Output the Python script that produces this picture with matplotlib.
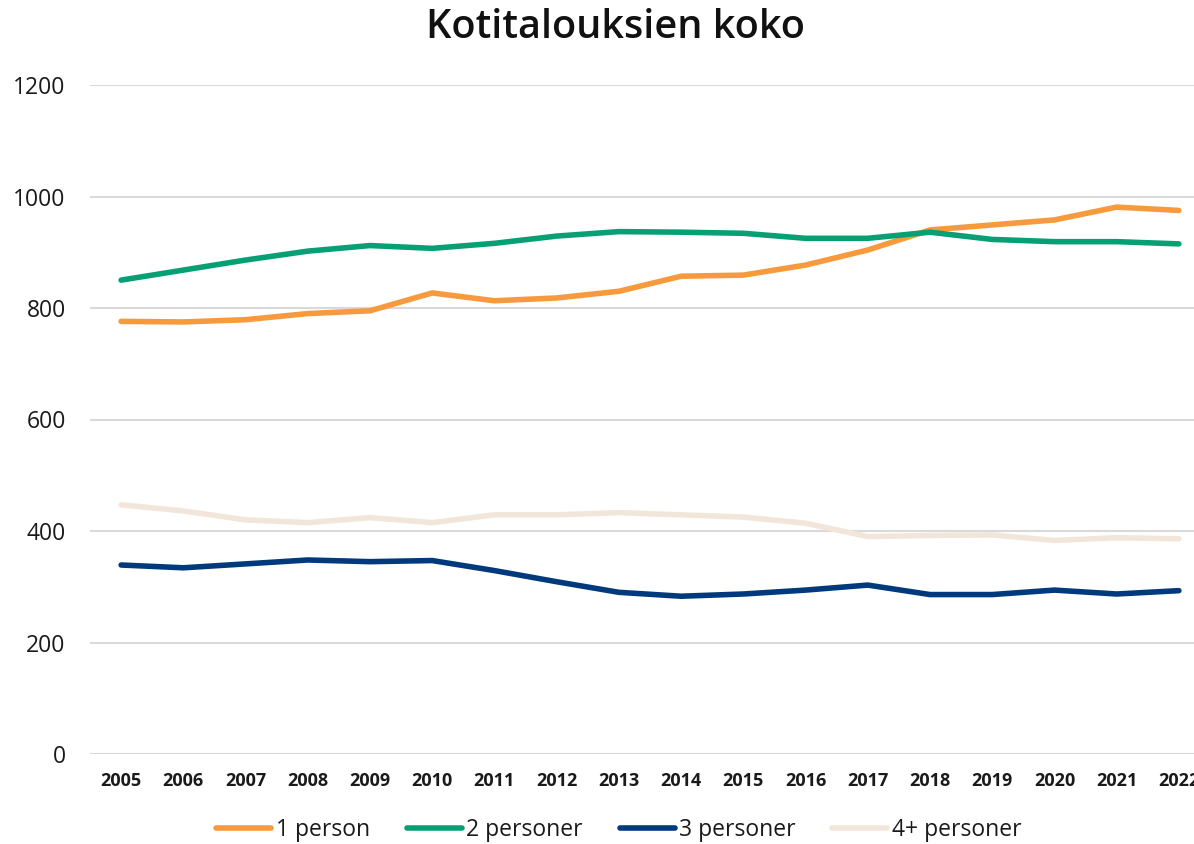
import matplotlib
matplotlib.use("Agg")
import matplotlib.pyplot as plt

years = [str(y) for y in range(2005, 2023)]
one_person = [776, 775, 779, 790, 795, 827, 813, 818, 830, 857, 859, 877, 904, 940, 949, 958, 981, 975]
two_persons = [850, 868, 886, 902, 912, 907, 916, 929, 937, 936, 934, 925, 925, 936, 923, 919, 919, 915]
three_persons = [339, 334, 341, 348, 345, 347, 329, 309, 290, 283, 287, 294, 303, 286, 286, 294, 287, 293]
four_plus = [447, 436, 420, 415, 424, 415, 429, 429, 433, 429, 425, 414, 390, 392, 393, 383, 388, 386]
series_names = ["1 person", "2 personer", "3 personer", "4+ personer"]
colors = ["#F79A3E", "#07A075", "#003A7D", "#F2E6DA"]
yticks = [0, 200, 400, 600, 800, 1000, 1200]

plt.rcParams['font.family'] = ['Open Sans', 'DejaVu Sans']

W, H = 1194, 844
fig = plt.figure(figsize=(W / 100, H / 100), dpi=100)
left = 90 / W
right = 1210 / W
bottom = (H - 754) / H
top = (H - 85) / H
ax = fig.add_axes([left, bottom, right - left, top - bottom])

x = list(range(len(years)))
for vals, name, c in zip([one_person, two_persons, three_persons, four_plus], series_names, colors):
    ax.plot(x, vals, color=c, lw=4, label=name, solid_capstyle='round', solid_joinstyle='round', zorder=3)

ax.set_xlim(-0.5, len(years) - 0.5)
ax.set_ylim(0, 1200)
ax.set_yticks(yticks)
ax.set_yticklabels([str(v) for v in yticks], fontsize=16.5, color="#1a1a1a")
ax.set_xticks(x)
ax.set_xticklabels(years, fontsize=13, fontweight='bold', color="#1a1a1a")
ax.tick_params(axis='both', length=0)
ax.tick_params(axis='y', pad=17.5)
ax.tick_params(axis='x', pad=13)
ax.grid(axis='y', color="#D9D9D9", lw=1.5, zorder=0)
for s in ax.spines.values():
    s.set_visible(False)

fig.text(615 / W, 1 - 28 / H, "Kotitalouksien koko", ha='center', va='center',
         fontsize=28.5, fontweight='semibold', color="#111111")

fig.legend(loc='center', bbox_to_anchor=(619 / W, 13 / H + 0.001), ncol=4, frameon=False,
           fontsize=16.5, handlelength=2.4, handletextpad=0.2, columnspacing=1.6,
           labelcolor="#1a1a1a")

fig.savefig("out.png", dpi=100)
